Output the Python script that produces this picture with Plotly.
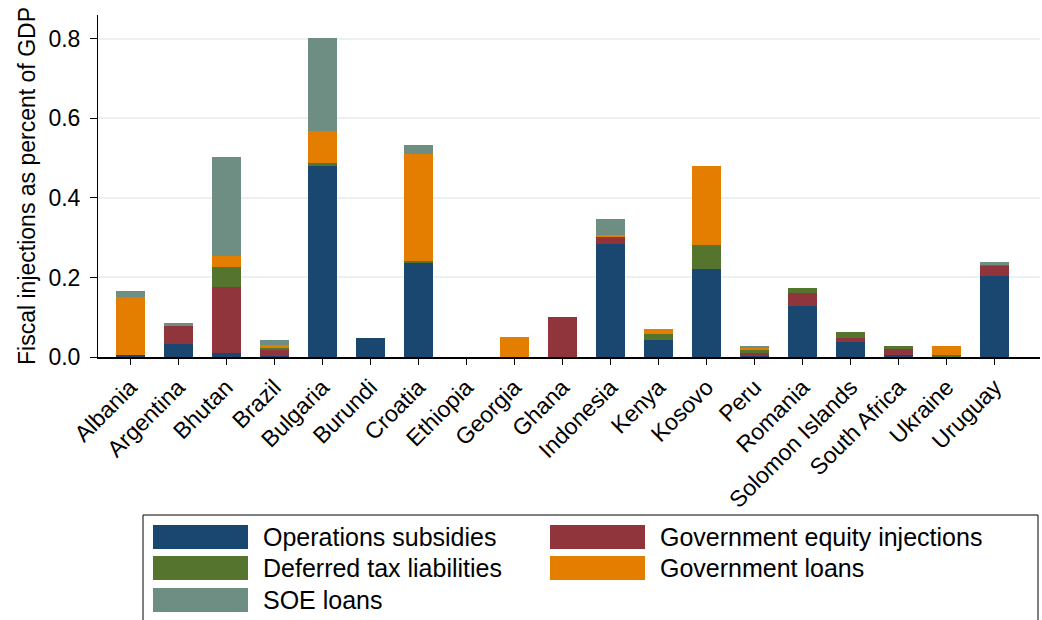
import plotly.graph_objects as go

countries = ["Albania", "Argentina", "Bhutan", "Brazil", "Bulgaria", "Burundi", "Croatia",
             "Ethiopia", "Georgia", "Ghana", "Indonesia", "Kenya", "Kosovo", "Peru", "Romania",
             "Solomon Islands", "South Africa", "Ukraine", "Uruguay"]

operations_subsidies = [0.004, 0.033, 0.010, 0.002, 0.480, 0.048, 0.238, 0.0, 0.0, 0.0, 0.285,
                        0.044, 0.221, 0.004, 0.128, 0.037, 0.005, 0.001, 0.204]
equity_injections = [0.0, 0.045, 0.166, 0.017, 0.0, 0.0, 0.0, 0.0, 0.0, 0.100, 0.019,
                     0.0, 0.0, 0.005, 0.033, 0.011, 0.015, 0.0, 0.025]
deferred_tax = [0.0, 0.0, 0.050, 0.003, 0.008, 0.0, 0.003, 0.0, 0.0, 0.0, 0.0,
                0.014, 0.061, 0.011, 0.013, 0.015, 0.008, 0.005, 0.003]
government_loans = [0.146, 0.0, 0.029, 0.009, 0.080, 0.0, 0.270, 0.0, 0.050, 0.0, 0.003,
                    0.012, 0.199, 0.002, 0.0, 0.0, 0.0, 0.022, 0.001]
soe_loans = [0.016, 0.008, 0.248, 0.013, 0.234, 0.0, 0.022, 0.0, 0.0, 0.0, 0.040,
             0.0, 0.0, 0.006, 0.0, 0.0, 0.0, 0.0, 0.005]

series_names = ["Operations subsidies", "Government equity injections", "Deferred tax liabilities",
                "Government loans", "SOE loans"]
series_values = [operations_subsidies, equity_injections, deferred_tax, government_loans, soe_loans]
series_colors = ["#1a476f", "#90353b", "#55752f", "#e37e00", "#6e8e84"]

y_ticks = [0.0, 0.2, 0.4, 0.6, 0.8]
y_tick_labels = ["0.0", "0.2", "0.4", "0.6", "0.8"]

FONT = "Liberation Sans, Arial, sans-serif"

fig = go.Figure()
for name, vals, col in zip(series_names, series_values, series_colors):
    fig.add_trace(go.Bar(x=countries, y=vals, name=name, marker=dict(color=col, line=dict(width=0)),
                         width=0.6, showlegend=False))

# plot-area pixel geometry (for legend placement)
W, H = 1042, 620
L, R, T, B = 98, 2, 15, 263
pw, ph = W - L - R, H - T - B


def px(xp):
    return (xp - L) / pw


def py(yp):
    return (H - B - yp) / ph


shapes = []
annotations = []
# legend box
shapes.append(dict(type="rect", xref="paper", yref="paper", x0=px(143), x1=px(1038), y0=py(622), y1=py(515),
                   line=dict(color="black", width=1), fillcolor="white"))
legend_pos = [(153, 537), (550, 537), (153, 568), (550, 568), (153, 600)]
legend_order = [0, 1, 2, 3, 4]
for (lx, ly), idx in zip(legend_pos, legend_order):
    shapes.append(dict(type="rect", xref="paper", yref="paper", x0=px(lx), x1=px(lx + 95),
                       y0=py(ly + 12), y1=py(ly - 12), line=dict(width=0), fillcolor=series_colors[idx]))
    annotations.append(dict(xref="paper", yref="paper", x=px(lx + 108), y=py(ly), text=series_names[idx],
                            showarrow=False, xanchor="left", yanchor="middle",
                            font=dict(family=FONT, size=25, color="black")))

fig.update_layout(
    barmode="stack",
    width=W, height=H,
    margin=dict(l=L, r=R, t=T, b=B, autoexpand=False),
    paper_bgcolor="white", plot_bgcolor="white",
    font=dict(family=FONT, size=23, color="black"),
    shapes=shapes, annotations=annotations,
    xaxis=dict(range=[-0.67, 18.94], tickangle=-45, showline=True, linecolor="black", linewidth=1.5,
               ticks="outside", ticklen=6, tickcolor="black", showgrid=False,
               tickfont=dict(family=FONT, size=23, color="black")),
    yaxis=dict(range=[0, 0.86], tickvals=y_ticks, ticktext=y_tick_labels, showline=True, linecolor="black",
               linewidth=1, ticks="outside", ticklen=7, tickcolor="black", showgrid=True,
               gridcolor="#eaf0f4", gridwidth=2, zeroline=False, ticklabelstandoff=5,
               tickfont=dict(family=FONT, size=23, color="black")),
    yaxis_title=dict(text="Fiscal injections as percent of GDP", standoff=6,
                     font=dict(family=FONT, size=23, color="black")),
)

fig.write_html("out.html")
